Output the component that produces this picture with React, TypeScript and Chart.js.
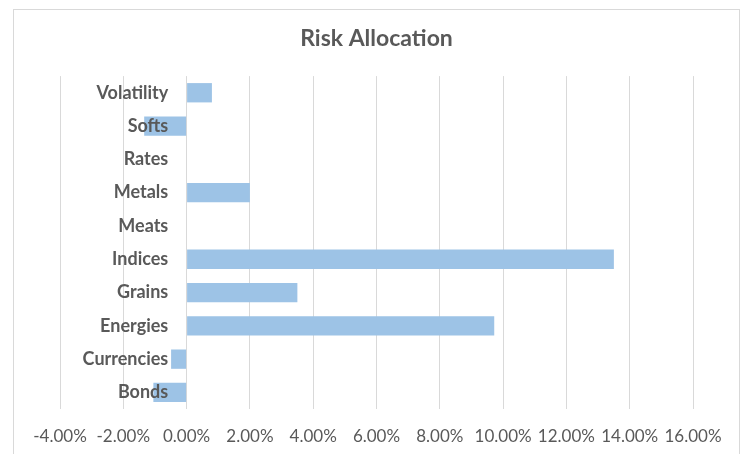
import React, { useEffect, useRef } from "react";
import { Chart, registerables } from "chart.js";

Chart.register(...registerables);

const categories = ["Bonds", "Currencies", "Energies", "Grains", "Indices", "Meats", "Metals", "Rates", "Softs", "Volatility"];
const allocation = [-1.05, -0.49, 9.72, 3.5, 13.5, 0, 2.0, 0, -1.34, 0.8];
const xTickMin = -4;
const xTickMax = 16;
const xTickStep = 2;

const FONT = "Lato, 'Open Sans', sans-serif";
const TEXT = "#595959";

export default function App() {
  const ref = useRef<HTMLCanvasElement | null>(null);

  useEffect(() => {
    if (!ref.current) return;
    const chart = new Chart(ref.current, {
      type: "bar",
      data: {
        labels: categories,
        datasets: [
          {
            label: "Risk Allocation",
            data: allocation,
            backgroundColor: "#9DC3E6",
            borderWidth: 0,
            categoryPercentage: 1,
            barPercentage: 0.58,
          },
        ],
      },
      options: {
        indexAxis: "y",
        animation: false,
        responsive: false,
        devicePixelRatio: 1,
        layout: { padding: { left: 60, right: 52, top: 0, bottom: -10.5 } },
        plugins: {
          legend: { display: false },
          tooltip: { enabled: false },
          title: {
            display: true,
            text: "Risk Allocation",
            color: TEXT,
            font: { family: FONT, size: 23, weight: "bold" },
            padding: { top: 25, bottom: 23.5 },
          },
        },
        scales: {
          x: {
            min: xTickMin,
            max: xTickMax,
            border: { display: false },
            grid: { color: "#D9D9D9", lineWidth: 1, drawTicks: false },
            ticks: {
              stepSize: xTickStep,
              padding: 17.5,
              color: TEXT,
              font: { family: FONT, size: 17 },
              maxRotation: 0,
              autoSkip: false,
              callback: (v: any) => Number(v).toFixed(2) + "%",
            },
          },
          y: {
            reverse: true,
            position: { x: -0.58 } as any,
            border: { display: false },
            grid: { display: false, drawTicks: false },
            ticks: {
              z: 1,
              padding: 0,
              color: TEXT,
              font: { family: FONT, size: 18, weight: "bold" },
              autoSkip: false,
            },
          },
        },
      },
    });
    return () => chart.destroy();
  }, []);

  return (
    <div style={{ position: "fixed", left: 0, top: 0, width: 745, height: 454, overflow: "hidden", background: "#fff" }}>
      <div
        style={{
          position: "absolute",
          left: 13,
          top: 9,
          width: 727,
          height: 460,
          border: "1px solid #D9D9D9",
          boxSizing: "border-box",
        }}
      />
      <canvas ref={ref} width={745} height={454} style={{ position: "absolute", left: 0, top: 0, width: 745, height: 454 }} />
    </div>
  );
}
